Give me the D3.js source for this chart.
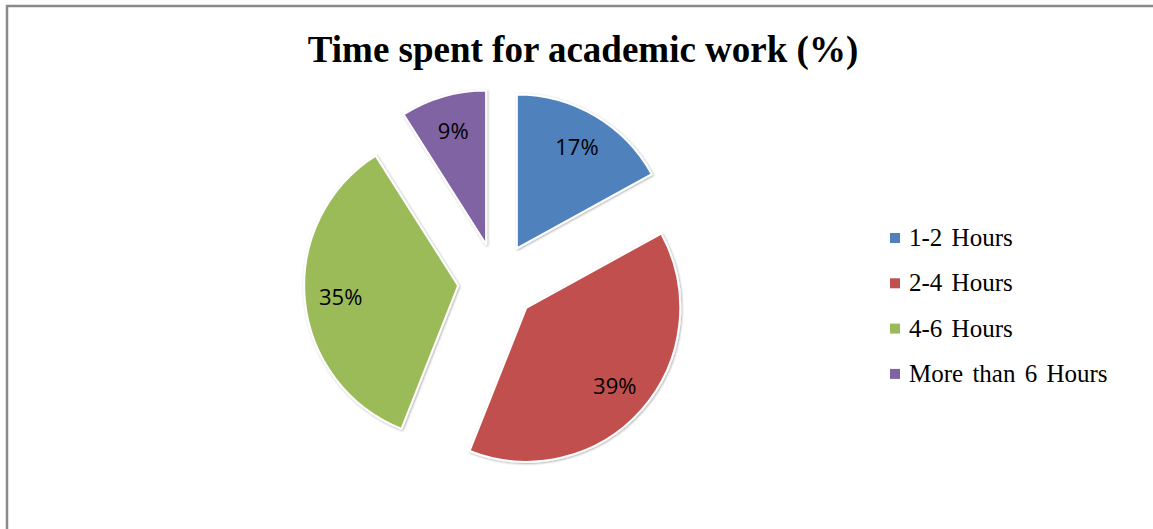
<!DOCTYPE html>
<html>
<head>
<meta charset="utf-8">
<script src="https://cdn.jsdelivr.net/npm/d3@7/dist/d3.min.js"></script>
<style>
  html, body { margin: 0; padding: 0; background: #fff; }
  svg { display: block; }
</style>
</head>
<body>
<div id="chart"></div>
<script>
var categories = ["1-2 Hours", "2-4 Hours", "4-6 Hours", "More than 6 Hours"];
var values = [17, 39, 35, 9];
var labels = ["17%", "39%", "35%", "9%"];
var colors = ["#4F81BD", "#C0504D", "#9BBB59", "#8064A2"];

var w = 1153, h = 529;
var cx = 497, cy = 282, r = 154, explode = 39, labelR = 118;

var svg = d3.select("#chart").append("svg")
    .attr("width", w)
    .attr("height", h);

var defs = svg.append("defs");
var shadow = defs.append("filter")
    .attr("id", "shadow")
    .attr("x", "-10%").attr("y", "-10%")
    .attr("width", "120%").attr("height", "120%");
shadow.append("feDropShadow")
    .attr("dx", 0.8).attr("dy", 0.8)
    .attr("stdDeviation", 1)
    .attr("flood-color", "#000")
    .attr("flood-opacity", 0.35);

// outer frame (only top and left edge are in view)
svg.append("path")
    .attr("d", "M7," + h + "V6H" + w)
    .attr("fill", "none")
    .attr("stroke", "#8a8a8a")
    .attr("stroke-width", 2.5);

svg.append("text")
    .attr("x", 583)
    .attr("y", 62)
    .attr("text-anchor", "middle")
    .style("font-family", "'Liberation Serif', 'Times New Roman', serif")
    .style("font-weight", "bold")
    .style("font-size", "37px")
    .text("Time spent for academic work (%)");

var pie = d3.pie().sort(null).value(function(d) { return d; });
var arcs = pie(values);
var arc = d3.arc().innerRadius(0).outerRadius(r);

var g = svg.append("g").attr("transform", "translate(" + cx + "," + cy + ")");

var slice = g.selectAll("g.slice")
    .data(arcs)
    .enter().append("g")
    .attr("class", "slice")
    .attr("transform", function(d) {
        var a = (d.startAngle + d.endAngle) / 2;
        return "translate(" + (Math.sin(a) * explode) + "," + (-Math.cos(a) * explode) + ")";
    });

slice.append("path")
    .attr("d", arc)
    .attr("fill", function(d, i) { return colors[i]; })
    .attr("stroke", "#fff")
    .attr("stroke-width", 2)
    .attr("stroke-linejoin", "round")
    .attr("filter", "url(#shadow)");

slice.append("text")
    .attr("x", function(d) { return Math.sin((d.startAngle + d.endAngle) / 2) * labelR; })
    .attr("y", function(d) { return -Math.cos((d.startAngle + d.endAngle) / 2) * labelR; })
    .attr("dy", "0.36em")
    .attr("text-anchor", "middle")
    .style("font-family", "'Open Sans', 'Noto Sans', sans-serif")
    .style("font-size", "22px")
    .style("fill", "#000")
    .text(function(d, i) { return labels[i]; });

var legend = svg.append("g").attr("transform", "translate(890,233)");
var row = legend.selectAll("g")
    .data(categories)
    .enter().append("g")
    .attr("transform", function(d, i) { return "translate(0," + (i * 45.3) + ")"; });

row.append("rect")
    .attr("width", 10)
    .attr("height", 10)
    .attr("fill", function(d, i) { return colors[i]; });

row.append("text")
    .attr("x", 19)
    .attr("y", 13)
    .style("font-family", "'Liberation Serif', 'Times New Roman', serif")
    .style("font-size", "25px")
    .style("word-spacing", "3px")
    .text(function(d) { return d; });
</script>
</body>
</html>
